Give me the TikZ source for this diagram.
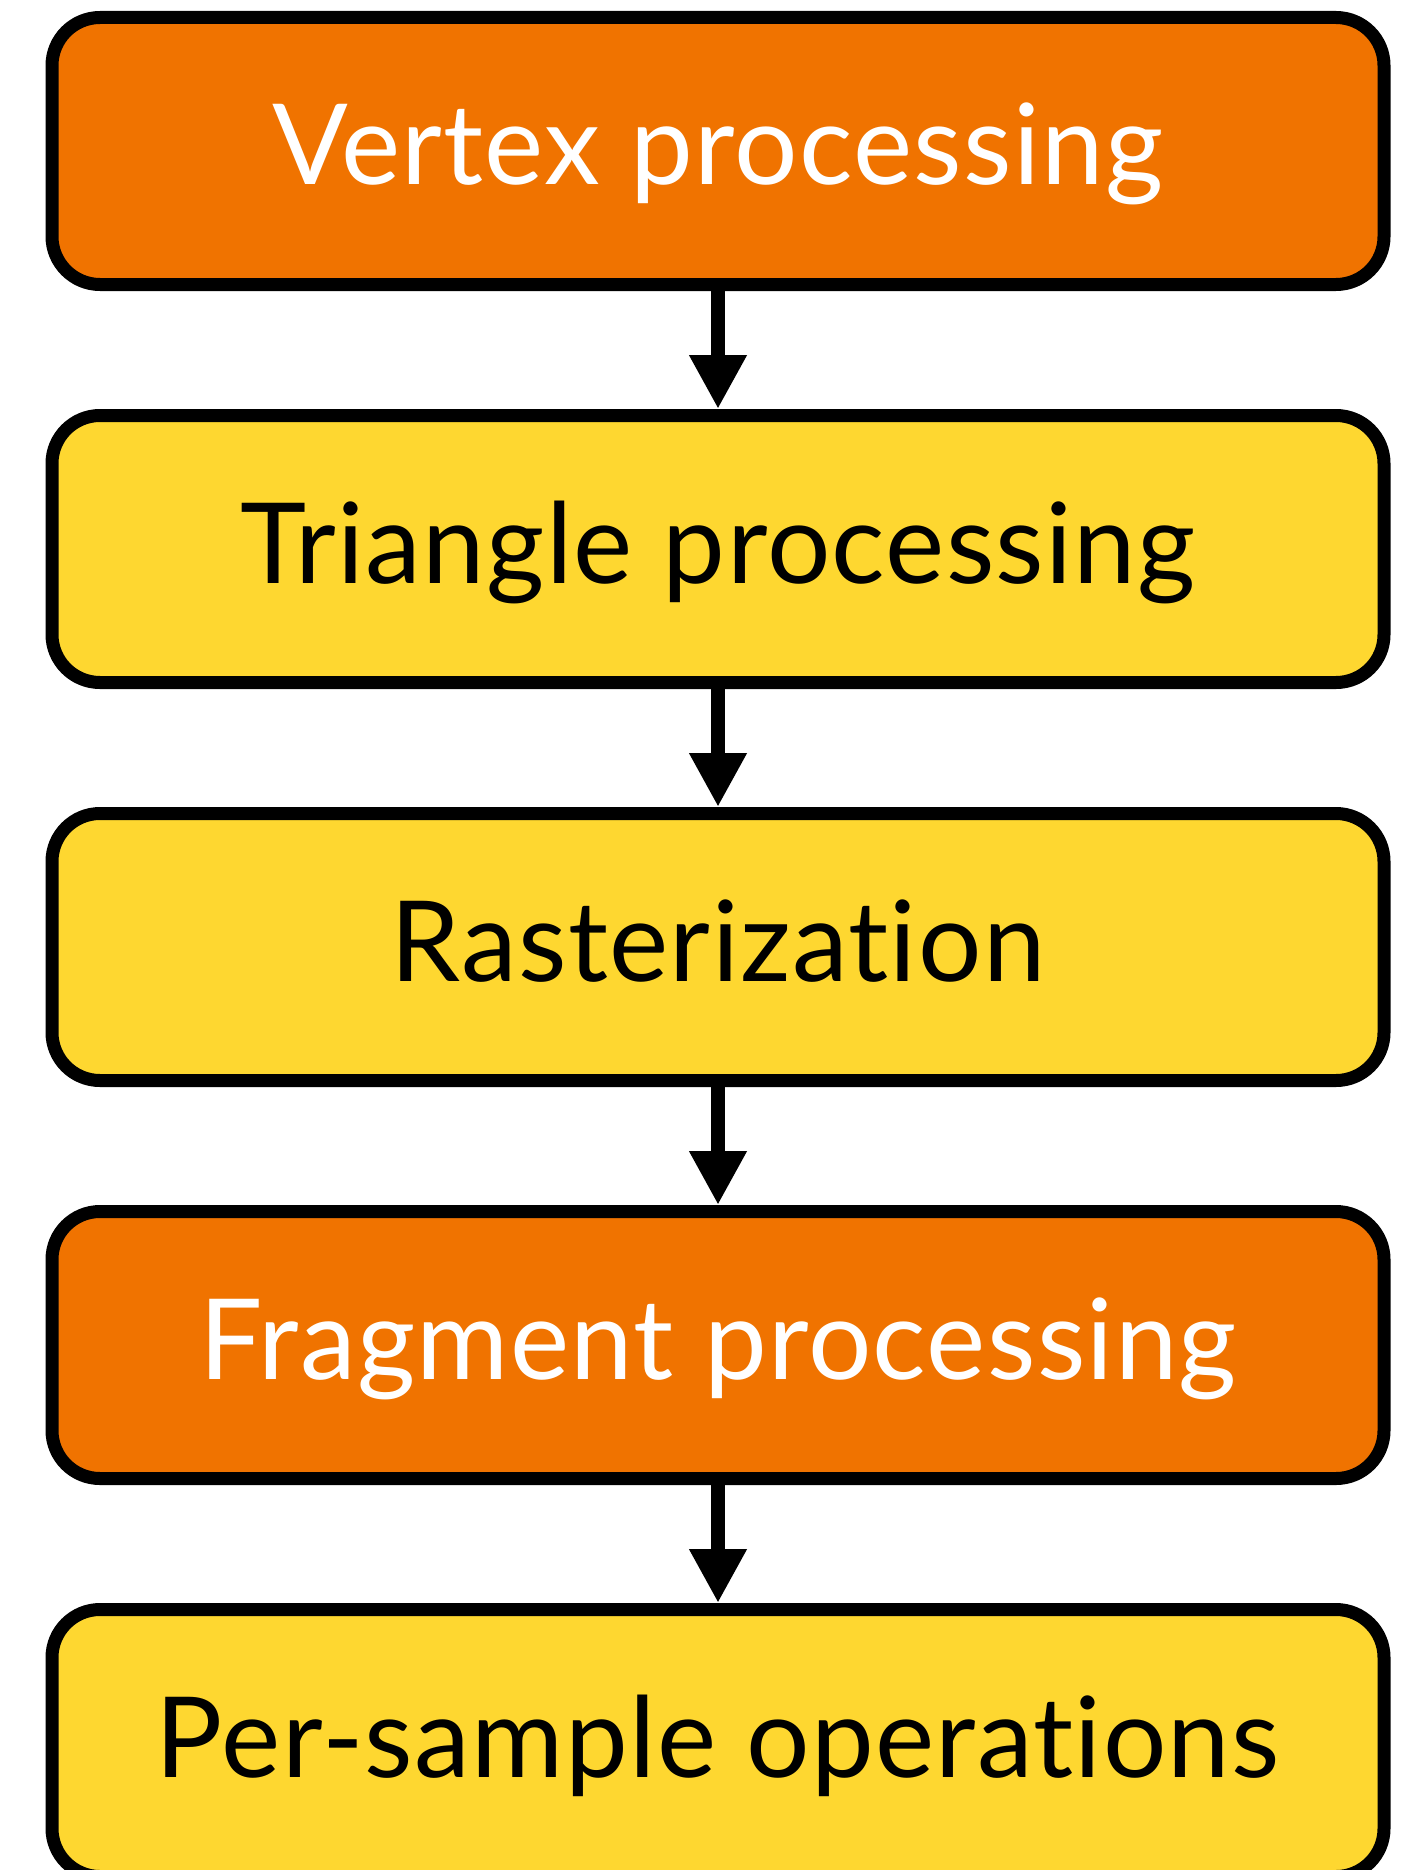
\documentclass[tikz,border=0pt]{standalone}
\usepackage{fontspec}
\setmainfont{Lato}[Ligatures={NoCommon,NoRare,NoContextual},LetterSpace=1.2]
\usetikzlibrary{arrows.meta}
\definecolor{stageorange}{HTML}{F07300}
\definecolor{stageyellow}{HTML}{FED730}
\begin{document}
\begin{tikzpicture}[x=1pt,y=-1pt,
  stage/.style={draw=black, line width=13pt, rounded corners=48pt,
    minimum width=1332pt, minimum height=267pt, inner sep=0pt,
    text height=68pt, text depth=0pt,
    font=\fontsize{112pt}{120pt}\selectfont},
  shader/.style={stage, fill=stageorange, text=white},
  fixed/.style={stage, fill=stageyellow, text=black},
  flow/.style={line width=14pt, -{Triangle[length=54pt,width=54pt]}}]
\useasboundingbox (0,0) rectangle (1409,1870);
\clip (0,0) rectangle (1409,1870);
\node[shader] (vertex)    at (718,151)  {Vertex processing};
\node[fixed]  (triangle)  at (718,549)  {Triangle processing};
\node[fixed]  (raster)    at (718,947)  {Rasterization};
\node[shader] (fragment)  at (718,1345) {Fragment processing};
\node[fixed]  (persample) at (718,1743) {Per-sample operations};
\draw[flow] (vertex.south) -- (triangle.north);
\draw[flow] (triangle.south) -- (raster.north);
\draw[flow] (raster.south) -- (fragment.north);
\draw[flow] (fragment.south) -- (persample.north);
\end{tikzpicture}
\end{document}
